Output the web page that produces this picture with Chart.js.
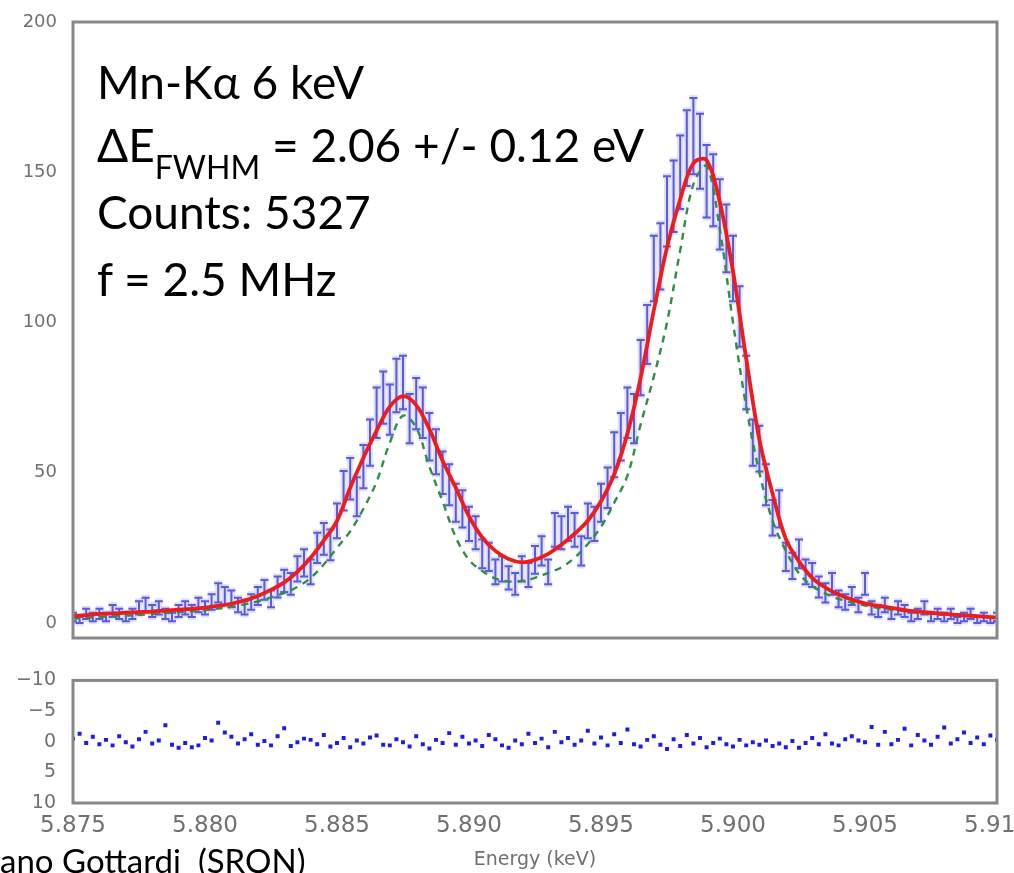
<!DOCTYPE html>
<html>
<head>
<meta charset="utf-8">
<script src="https://cdn.jsdelivr.net/npm/chart.js@4.4.0/dist/chart.umd.min.js"></script>
<style>
    html, body { margin: 0; padding: 0; background: #fff; overflow: hidden; width: 1014px; height: 873px; position: relative; }
    #main { position: absolute; left: 0; top: 0; }
    #resid { position: absolute; left: 0; top: 660px; }
    .note { position: absolute; left: 97px; font-family: Lato, "Open Sans", sans-serif; font-size: 46px; line-height: 1; color: #000; white-space: nowrap; }
    .note sub { font-size: 32px; vertical-align: -17px; line-height: 0; }
    #credit { position: absolute; left: 0; top: 844px; font-family: Lato, "Open Sans", sans-serif; font-size: 33px; line-height: 1; color: #000; white-space: nowrap; }
</style>
</head>
<body>
<canvas id="main" width="1014" height="660"></canvas>
<canvas id="resid" width="1040" height="213"></canvas>
<div class="note" style="top:59px">Mn-Kα 6 keV</div>
<div class="note" style="top:122px">ΔE<sub>FWHM</sub> = 2.06 +/- 0.12 eV</div>
<div class="note" style="top:189px">Counts: 5327</div>
<div class="note" style="top:256px">f = 2.5 MHz</div>
<div id="credit">ano Gottardi&nbsp; (SRON)</div>
<script>
// measured spectrum, 0.25 eV bins starting at 5.875 keV
const binStart = 5.875;
const binWidth = 0.00025;

const counts = [
    2, 1, 3, 2, 3, 2, 4, 3, 2, 3,
    5, 6, 4, 5, 3, 2, 4, 5, 4, 6,
    5, 7, 10, 9, 8, 6, 5, 7, 9, 11,
    8, 12, 14, 13, 18, 20, 17, 25, 28, 26,
    34, 44, 48, 42, 52, 60, 70, 75, 71, 79,
    80, 68, 73, 70, 62, 57, 50, 46, 40, 38,
    33, 30, 23, 22, 17, 18, 15, 13, 18, 16,
    21, 24, 17, 31, 30, 33, 31, 24, 34, 33,
    40, 45, 56, 62, 70, 68, 85, 96, 118, 122,
    137, 142, 150, 158, 162, 157, 147, 144, 136, 128,
    118, 102, 80, 60, 58, 46, 35, 38, 22, 19,
    23, 17, 16, 12, 10, 13, 8, 7, 9, 6,
    13, 5, 4, 6, 3, 5, 4, 2, 3, 5,
    2, 3, 2, 3, 1, 2, 3, 1, 2, 1,
    2
];

const countErr = [
    1.4, 1, 1.7, 1.4, 1.7, 1.4, 2, 1.7, 1.4, 1.7,
    2.2, 2.4, 2, 2.2, 1.7, 1.4, 2, 2.2, 2, 2.4,
    2.2, 2.6, 3.2, 3, 2.8, 2.4, 2.2, 2.6, 3, 3.3,
    2.8, 3.5, 3.7, 3.6, 4.2, 4.5, 4.1, 5, 5.3, 5.1,
    5.8, 6.6, 6.9, 6.5, 7.2, 7.7, 8.4, 8.7, 8.4, 8.9,
    8.9, 8.2, 8.5, 8.4, 7.9, 7.5, 7.1, 6.8, 6.3, 6.2,
    5.7, 5.5, 4.8, 4.7, 4.1, 4.2, 3.9, 3.6, 4.2, 4,
    4.6, 4.9, 4.1, 5.6, 5.5, 5.7, 5.6, 4.9, 5.8, 5.7,
    6.3, 6.7, 7.5, 7.9, 8.4, 8.2, 9.2, 9.8, 10.9, 11,
    11.7, 11.9, 12.2, 12.6, 12.7, 12.5, 12.1, 12, 11.7, 11.3,
    10.9, 10.1, 8.9, 7.7, 7.6, 6.8, 5.9, 6.2, 4.7, 4.4,
    4.8, 4.1, 4, 3.5, 3.2, 3.6, 2.8, 2.6, 3, 2.4,
    3.6, 2.2, 2, 2.4, 1.7, 2.2, 2, 1.4, 1.7, 2.2,
    1.4, 1.7, 1.4, 1.7, 1, 1.4, 1.7, 1, 1.4, 1,
    1.4
];

const residuals = [
    -0.5, -1.3, 0.2, -0.8, 0.4, -0.3, 0.6, -0.9, 0.1, 0.8,
    -0.4, -1.6, 0.3, -0.2, -2.7, 0.5, 1.0, 0.2, 0.9, 0.6,
    -0.6, -0.2, -3.1, -1.5, -0.8, 0.3, -0.4, -1.2, 0.5, -0.1,
    0.6, -0.9, -2.2, 0.7, 0.1, -0.5, -0.3, 0.4, -1.1, 0.8,
    0.2, -0.6, 0.9, -0.2, 0.3, -0.7, -1.0, 0.5, 0.6, -0.4,
    0.1, 0.8, -0.9, 0.4, 1.1, -0.3, 0.2, -1.4, 0.5, -0.8,
    0.3, -0.2, 0.7, -1.1, -0.4, 0.6, 1.0, -0.2, 0.4, -1.3,
    0.2, -0.5, 0.9, -1.6, 0.1, -0.6, 0.5, -0.2, -1.8, 0.3,
    -0.7, 0.6, -1.2, 0.2, -2.0, 0.4, 0.8, -0.3, -0.9, 0.5,
    1.2, -0.4, 0.7, -1.1, 0.3, -0.6, 0.9, 0.2, -0.5, 0.4,
    0.8, -0.3, 0.6, 0.1, 0.5, -0.2, 0.7, 0.3, 0.9, -0.1,
    1.0, 0.2, -0.6, 0.4, -1.2, 0.3, 0.6, -0.4, -0.9, -0.2,
    0.1, -2.4, 0.5, -1.6, 0.4, -0.3, -2.1, 0.6, -1.1, -0.2,
    0.5, -0.8, -2.3, 0.3, -0.4, -1.5, 0.2, -0.7, 0.4, -1.0,
    -0.3
];

// model curves, sampled every 0.5 eV from 5.875 keV
const curveStep = 0.0005;

const fitTotal = [
    2.3, 2.6, 3.0, 3.2, 3.4, 3.6, 3.8, 4.1, 4.4, 4.7,
    5.1, 5.7, 6.4, 7.5, 9.0, 11.0, 13.5, 17.0, 21.7, 27.5,
    34, 45, 55, 64, 72, 75.5, 72.5, 64.5, 54, 45,
    35.5, 28.5, 24, 21.3, 20.2, 21, 23, 26, 29.7, 34,
    40.5, 49.5, 63, 81.5, 104, 125, 141, 153, 154, 140,
    117, 88, 61, 43, 28, 20.5, 15, 11.8, 9.5, 7.8,
    6.5, 5.7, 5.0, 4.3, 3.8, 3.4, 3.0, 2.7, 2.4, 2.1,
    1.8
];

const lineShape = [
    1.5, 1.7, 2.0, 2.2, 2.5, 2.7, 3.0, 3.3, 3.6, 3.9,
    4.3, 4.8, 5.4, 6.2, 7.2, 8.5, 10, 12, 15, 19.5,
    25, 30.5, 38, 47, 60, 69, 65, 52, 40.5, 28.5,
    21, 17.3, 14.8, 13.8, 14, 15, 16.7, 18.5, 21.7, 26.3,
    32, 40, 49, 66, 82, 100, 124, 146, 152, 131,
    100, 72, 50, 34, 24, 16.5, 12.3, 9.8, 8.0, 6.8,
    5.8, 5.0, 4.4, 3.9, 3.4, 3.0, 2.7, 2.4, 2.2, 2.0,
    1.8
];

const energyTicks = [5.875, 5.880, 5.885, 5.890, 5.895, 5.900, 5.905, 5.910];
const countTicks = [0, 50, 100, 150, 200];
const residTicks = [-10, -5, 0, 5, 10];

const binEnergy = i => +(binStart + i * binWidth).toFixed(5);
const curveEnergy = i => +(binStart + i * curveStep).toFixed(5);

const tickColor = '#707070';

const frame = {
    id: 'frame',
    afterDraw(chart) {
        const { ctx, chartArea } = chart;
        ctx.save();
        ctx.strokeStyle = '#888';
        ctx.lineWidth = 3;
        ctx.strokeRect(chartArea.left, chartArea.top, chartArea.width, chartArea.height);
        ctx.restore();
    }
};

const errorBars = {
    id: 'errorBars',
    beforeDatasetsDraw(chart) {
        const { ctx, chartArea, scales: { x, y } } = chart;
        ctx.save();
        ctx.beginPath();
        ctx.rect(chartArea.left, chartArea.top, chartArea.width, chartArea.height);
        ctx.clip();
        // soft halo first, then the bar itself
        [['rgba(130, 130, 235, 0.25)', 6], ['rgba(45, 45, 215, 0.75)', 2]].forEach(([color, width]) => {
            ctx.strokeStyle = color;
            ctx.lineWidth = width;
            counts.forEach((c, i) => {
                const px = x.getPixelForValue(binEnergy(i));
                const top = y.getPixelForValue(c + countErr[i]);
                const bot = y.getPixelForValue(c - countErr[i]);
                ctx.beginPath();
                ctx.moveTo(px, top);
                ctx.lineTo(px, bot);
                ctx.moveTo(px - 4, top);
                ctx.lineTo(px + 4, top);
                ctx.moveTo(px - 4, bot);
                ctx.lineTo(px + 4, bot);
                ctx.stroke();
            });
        });
        ctx.restore();
    }
};

new Chart(document.getElementById('main'), {
    type: 'scatter',
    data: {
        datasets: [
            {
                label: 'Fit',
                type: 'line',
                data: fitTotal.map((v, i) => ({ x: curveEnergy(i), y: v })),
                borderColor: '#ee1c1c',
                borderWidth: 3.8,
                pointRadius: 0,
                tension: 0.35,
                order: 1
            },
            {
                label: 'Line shape',
                type: 'line',
                data: lineShape.map((v, i) => ({ x: curveEnergy(i), y: v })),
                borderColor: '#2f8f45',
                borderDash: [7, 6],
                borderWidth: 2.4,
                pointRadius: 0,
                tension: 0.35,
                order: 2
            },
            {
                label: 'Data',
                data: counts.map((c, i) => ({ x: binEnergy(i), y: c })),
                pointRadius: 0,
                order: 3
            }
        ]
    },
    options: {
        responsive: false,
        animation: false,
        layout: { padding: { left: 0, top: 22, right: 17, bottom: 22 } },
        plugins: { legend: { display: false }, tooltip: { enabled: false } },
        scales: {
            x: {
                type: 'linear',
                min: 5.875,
                max: 5.910,
                display: false
            },
            y: {
                min: -5,
                max: 200,
                afterBuildTicks: axis => { axis.ticks = countTicks.map(v => ({ value: v })); },
                afterFit: axis => { axis.width = 73; },
                grid: { display: false },
                border: { display: false },
                ticks: {
                    padding: 8,
                    color: tickColor,
                    font: { family: 'DejaVu Sans', size: 18 }
                }
            }
        }
    },
    plugins: [errorBars, frame]
});

new Chart(document.getElementById('resid'), {
    type: 'scatter',
    data: {
        datasets: [{
            label: 'Residuals',
            data: residuals.map((r, i) => ({ x: binEnergy(i), y: r })),
            pointStyle: 'rect',
            pointRadius: 2.8,
            backgroundColor: '#1c1ce6',
            borderColor: '#1c1ce6',
            borderWidth: 0
        }]
    },
    options: {
        responsive: false,
        animation: false,
        layout: { padding: { left: 0, top: 20, right: 43, bottom: 0 } },
        plugins: { legend: { display: false }, tooltip: { enabled: false } },
        scales: {
            x: {
                type: 'linear',
                min: 5.875,
                max: 5.910,
                afterBuildTicks: axis => { axis.ticks = energyTicks.map(v => ({ value: v })); },
                afterFit: axis => { axis.height = 70; },
                grid: { display: false },
                border: { display: false },
                ticks: {
                    padding: 1,
                    maxRotation: 0,
                    autoSkip: false,
                    color: tickColor,
                    font: { family: 'DejaVu Sans', size: 23 },
                    callback: v => v.toFixed(3)
                },
                title: {
                    display: true,
                    text: 'Energy (keV)',
                    color: tickColor,
                    font: { family: 'DejaVu Sans', size: 19 },
                    padding: { top: 0, bottom: 2 }
                }
            },
            y: {
                min: -10,
                max: 10,
                reverse: true,
                afterBuildTicks: axis => { axis.ticks = residTicks.map(v => ({ value: v })); },
                afterFit: axis => { axis.width = 73; },
                grid: { display: false },
                border: { display: false },
                ticks: {
                    padding: 9,
                    color: tickColor,
                    font: { family: 'DejaVu Sans', size: 19 },
                    callback: v => v < 0 ? '\u2212' + Math.abs(v) : String(v)
                }
            }
        }
    },
    plugins: [frame]
});
</script>
</body>
</html>
